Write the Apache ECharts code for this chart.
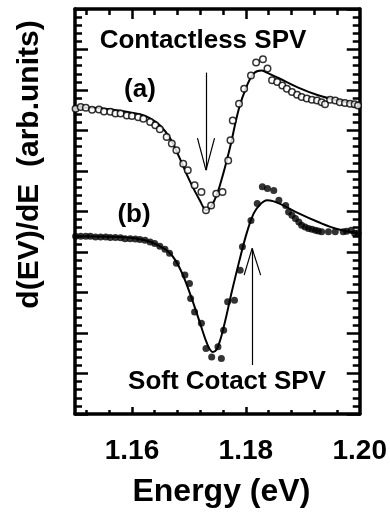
<!DOCTYPE html>
<html>
<head>
<meta charset="utf-8">
<script src="https://cdn.jsdelivr.net/npm/echarts@6/dist/echarts.min.js"></script>
<style>
  html, body { margin: 0; padding: 0; background: #fff; }
  #main { width: 390px; height: 523px; }
</style>
</head>
<body>
<div id="main"></div>
<script>
// (a) contactless SPV, open circles
var energyA = [1.1501, 1.1510, 1.1519, 1.1530, 1.1542, 1.1551, 1.1562, 1.1571, 1.1580, 1.1591,
    1.1600, 1.1611, 1.1620, 1.1632, 1.1641, 1.1649, 1.1661, 1.1670, 1.1678, 1.1690,
    1.1698, 1.1710, 1.1722, 1.1730, 1.1739, 1.1748, 1.1759, 1.1769, 1.1773, 1.1777,
    1.1788, 1.1797, 1.1809, 1.1818, 1.1830, 1.1838, 1.1846, 1.1855, 1.1864, 1.1872,
    1.1881, 1.1890, 1.1898, 1.1907, 1.1916, 1.1925, 1.1933, 1.1939, 1.1948, 1.1957,
    1.1965, 1.1974, 1.1983, 1.1991, 1.1997];
var signalA = [7.54, 7.58, 7.56, 7.51, 7.52, 7.47, 7.46, 7.42, 7.42, 7.37,
    7.36, 7.33, 7.29, 7.21, 7.13, 7.03, 6.84, 6.68, 6.51, 6.18,
    6.02, 5.65, 5.48, 5.03, 5.15, 5.44, 5.48, 6.26, 6.76, 7.25,
    7.66, 8.03, 8.36, 8.68, 8.76, 8.53, 8.24, 8.20, 8.11, 8.03,
    7.95, 7.88, 7.83, 7.79, 7.76, 7.74, 7.70, 7.65, 7.76, 7.74,
    7.70, 7.68, 7.66, 7.65, 7.62];
var fitEnergyA = [1.1501, 1.1545, 1.1588, 1.1614, 1.1632, 1.1649, 1.1667, 1.1684, 1.1701, 1.1719,
    1.1731, 1.1745, 1.1757, 1.1771, 1.1788, 1.1802, 1.1814, 1.1827, 1.1837, 1.1858,
    1.1892, 1.1927, 1.1962, 1.1997];
var fitA = [7.57, 7.55, 7.47, 7.40, 7.30, 7.13, 6.81, 6.31, 5.77, 5.28,
    5.03, 5.28, 5.77, 6.51, 7.55, 8.11, 8.41, 8.48, 8.43, 8.29,
    8.06, 7.87, 7.74, 7.65];

// (b) soft contact SPV, filled circles
var energyB = [1.1501, 1.1510, 1.1519, 1.1527, 1.1536, 1.1545, 1.1554, 1.1562, 1.1571, 1.1580,
    1.1588, 1.1597, 1.1606, 1.1614, 1.1623, 1.1632, 1.1640, 1.1649, 1.1658, 1.1666,
    1.1678, 1.1693, 1.1701, 1.1703, 1.1710, 1.1722, 1.1730, 1.1740, 1.1751, 1.1757,
    1.1761, 1.1768, 1.1780, 1.1790, 1.1794, 1.1809, 1.1820, 1.1829, 1.1838, 1.1849,
    1.1858, 1.1870, 1.1875, 1.1881, 1.1887, 1.1893, 1.1898, 1.1904, 1.1910, 1.1916,
    1.1922, 1.1927, 1.1933, 1.1945, 1.1957, 1.1971, 1.1977, 1.1985, 1.1991, 1.1997];
var signalB = [4.39, 4.39, 4.39, 4.39, 4.37, 4.37, 4.37, 4.36, 4.36, 4.35,
    4.33, 4.33, 4.32, 4.31, 4.29, 4.25, 4.21, 4.14, 4.07, 3.97,
    3.72, 3.43, 3.22, 2.85, 2.52, 2.24, 1.62, 1.41, 1.66, 1.37,
    2.07, 2.77, 2.81, 3.55, 4.13, 4.78, 5.20, 5.61, 5.57, 5.52,
    5.28, 5.15, 4.99, 4.91, 4.83, 4.74, 4.66, 4.62, 4.58, 4.56,
    4.54, 4.52, 4.50, 4.50, 4.50, 4.50, 4.51, 4.54, 4.46, 4.47];
var fitEnergyB = [1.1501, 1.1580, 1.1623, 1.1649, 1.1667, 1.1684, 1.1701, 1.1719, 1.1733, 1.1742,
    1.1750, 1.1762, 1.1774, 1.1788, 1.1802, 1.1814, 1.1827, 1.1837, 1.1849, 1.1866,
    1.1892, 1.1927, 1.1962, 1.1997];
var fitB = [4.39, 4.37, 4.29, 4.14, 3.97, 3.60, 3.01, 2.27, 1.70, 1.53,
    1.63, 2.20, 2.94, 3.75, 4.49, 4.96, 5.20, 5.28, 5.25, 5.15,
    4.96, 4.74, 4.56, 4.46];

// axis ticks
var xLabels = [1.16, 1.18, 1.20];
var xMajorTicks = [1.16, 1.18];
var xMinorTicks = [1.152, 1.156, 1.164, 1.168, 1.172, 1.176, 1.184, 1.188, 1.192, 1.196];

function zip(xs, ys) {
    var out = [];
    for (var i = 0; i < xs.length; i++) out.push([xs[i], ys[i]]);
    return out;
}

var font = "'Liberation Sans', Arial, sans-serif";
var black = '#000';

// x axes: one with the frame + major ticks, one overlaid with only minor ticks
function xAxisOf(pos, ticks, len, withLine, withLabels) {
    return {
        type: 'value', position: pos, min: 1.15, max: 1.20,
        axisLine: { show: withLine, onZero: false, lineStyle: { color: black, width: 3.5 } },
        axisTick: { show: true, inside: true, length: len, customValues: ticks,
            lineStyle: { color: black, width: 2.5 } },
        axisLabel: withLabels ? {
            show: true, customValues: xLabels, margin: 23,
            color: black, fontFamily: font, fontWeight: 'bold', fontSize: 28,
            formatter: function (v) { return v.toFixed(2); }
        } : { show: false },
        splitLine: { show: false }
    };
}

function yAxisOf(pos) {
    return {
        type: 'value', position: pos, min: 0, max: 10, interval: 1,
        axisLine: { show: true, lineStyle: { color: black, width: 3.5 } },
        axisTick: { show: true, inside: true, length: 13, lineStyle: { color: black, width: 2.5 } },
        minorTick: { show: true, splitNumber: 5, length: 7, lineStyle: { color: black, width: 2.5 } },
        axisLabel: { show: false },
        splitLine: { show: false },
        minorSplitLine: { show: false }
    };
}

var chart = echarts.init(document.getElementById('main'));

var xBottom = xAxisOf('bottom', xMajorTicks, 7, true, true);
xBottom.name = 'Energy (eV)';
xBottom.nameLocation = 'middle';
xBottom.nameGap = 62;
xBottom.nameTextStyle = { color: black, fontFamily: font, fontWeight: 'bold', fontSize: 32,
    padding: [0, 0, 0, 8] };

var yLeft = yAxisOf('left');
yLeft.name = 'd(EV)/dE  (arb.units)';
yLeft.nameLocation = 'middle';
yLeft.nameGap = 30;
yLeft.nameTextStyle = { color: black, fontFamily: font, fontWeight: 'bold', fontSize: 30,
    padding: [0, 0, 0, 94] };

var arrowStyle = { color: black, width: 1.2, type: 'solid' };

var option = {
    animation: false,
    backgroundColor: '#fff',
    grid: { left: 75, right: 29, top: 9, bottom: 109 },
    xAxis: [
        xBottom,
        xAxisOf('bottom', xMinorTicks, 4, false, false),
        xAxisOf('top', xMajorTicks, 10, true, false),
        xAxisOf('top', xMinorTicks, 6, false, false)
    ],
    yAxis: [yLeft, yAxisOf('right')],
    graphic: [
        { type: 'text', x: 203, y: 41, silent: true,
          style: { text: 'Contactless SPV', align: 'center', verticalAlign: 'middle',
                   fill: black, font: 'bold 26px ' + font } },
        { type: 'text', x: 140, y: 90, silent: true,
          style: { text: '(a)', align: 'center', verticalAlign: 'middle',
                   fill: black, font: 'bold 26px ' + font } },
        { type: 'text', x: 134, y: 215, silent: true,
          style: { text: '(b)', align: 'center', verticalAlign: 'middle',
                   fill: black, font: 'bold 26px ' + font } },
        { type: 'text', x: 227, y: 382, silent: true,
          style: { text: 'Soft Cotact SPV', align: 'center', verticalAlign: 'middle',
                   fill: black, font: 'bold 26px ' + font } }
    ],
    series: [
        {
            name: 'fit (a)', type: 'line', data: zip(fitEnergyA, fitA),
            smooth: 0.4, showSymbol: false, symbol: 'none',
            lineStyle: { color: black, width: 2 }, z: 2,
            markLine: {
                silent: true, symbol: ['none', 'none'], label: { show: false },
                lineStyle: arrowStyle,
                data: [
                    [{ coord: [1.1730, 8.43] }, { coord: [1.1730, 6.02] }],
                    [{ coord: [1.1715, 6.81] }, { coord: [1.1730, 6.02] }],
                    [{ coord: [1.1745, 6.81] }, { coord: [1.1730, 6.02] }]
                ]
            }
        },
        {
            name: 'fit (b)', type: 'line', data: zip(fitEnergyB, fitB),
            smooth: 0.4, showSymbol: false, symbol: 'none',
            lineStyle: { color: black, width: 2 }, z: 2,
            markLine: {
                silent: true, symbol: ['none', 'none'], label: { show: false },
                lineStyle: arrowStyle,
                data: [
                    [{ coord: [1.1811, 1.21] }, { coord: [1.1811, 4.09] }],
                    [{ coord: [1.1797, 3.43] }, { coord: [1.1811, 4.09] }],
                    [{ coord: [1.1826, 3.43] }, { coord: [1.1811, 4.09] }]
                ]
            }
        },
        {
            name: 'Contactless SPV', type: 'scatter', data: zip(energyA, signalA),
            symbol: 'circle', symbolSize: 6.5,
            itemStyle: { color: '#fff', borderColor: black, borderWidth: 1.5 }, z: 3
        },
        {
            name: 'Soft Cotact SPV', type: 'scatter', data: zip(energyB, signalB),
            symbol: 'circle', symbolSize: 7,
            itemStyle: { color: black }, z: 3
        }
    ]
};

chart.setOption(option);
</script>
</body>
</html>
